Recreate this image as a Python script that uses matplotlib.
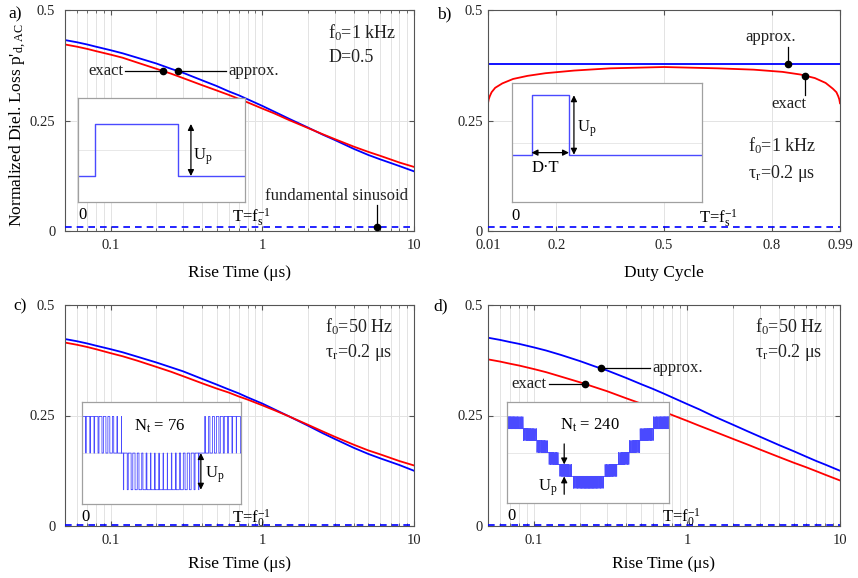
import matplotlib
matplotlib.use("Agg")
import matplotlib.pyplot as plt
import numpy as np
from matplotlib.ticker import FixedLocator, FixedFormatter, LogLocator, NullFormatter

plt.rcParams['font.family'] = ['Liberation Serif', 'DejaVu Serif']
plt.rcParams['mathtext.default'] = 'regular'

# rise time axis (us) shared by a), c), d)
rise = [0.05, 0.06, 0.07, 0.08, 0.1, 0.12, 0.15, 0.2, 0.25, 0.3, 0.4, 0.5, 0.6, 0.7,
        0.8, 1, 1.2, 1.5, 2, 2.5, 3, 4, 5, 6, 7, 8, 10]

a_approx = [0.432, 0.427, 0.422, 0.417, 0.409, 0.402, 0.392, 0.379, 0.367, 0.358, 0.341, 0.328, 0.316, 0.307,
            0.298, 0.283, 0.270, 0.254, 0.234, 0.218, 0.206, 0.186, 0.172, 0.162, 0.154, 0.147, 0.135]
a_exact = [0.422, 0.417, 0.412, 0.407, 0.399, 0.392, 0.381, 0.367, 0.356, 0.346, 0.330, 0.318, 0.308, 0.299,
           0.291, 0.277, 0.266, 0.251, 0.233, 0.219, 0.208, 0.191, 0.179, 0.170, 0.162, 0.155, 0.145]
a_sine = 0.009

duty = [0.01, 0.012, 0.015, 0.02, 0.03, 0.05, 0.08, 0.12, 0.17, 0.25, 0.35, 0.5,
        0.65, 0.75, 0.83, 0.88, 0.92, 0.95, 0.97, 0.98, 0.985, 0.988, 0.99]
b_exact = [0.289, 0.298, 0.305, 0.314, 0.324, 0.334, 0.344, 0.351, 0.357, 0.363, 0.368, 0.371,
           0.368, 0.365, 0.360, 0.354, 0.346, 0.335, 0.322, 0.314, 0.305, 0.298, 0.289]
b_approx = 0.378
b_sine = 0.009

c_approx = [0.423, 0.418, 0.413, 0.408, 0.400, 0.393, 0.383, 0.370, 0.359, 0.350, 0.333, 0.320, 0.309, 0.300,
            0.291, 0.277, 0.264, 0.248, 0.227, 0.210, 0.197, 0.177, 0.163, 0.153, 0.145, 0.138, 0.125]
c_exact = [0.415, 0.410, 0.405, 0.400, 0.391, 0.384, 0.374, 0.360, 0.349, 0.339, 0.323, 0.311, 0.302, 0.293,
           0.286, 0.273, 0.262, 0.248, 0.229, 0.214, 0.202, 0.184, 0.171, 0.162, 0.154, 0.147, 0.137]
c_sine = 0.002

d_approx = [0.426, 0.421, 0.416, 0.412, 0.404, 0.397, 0.387, 0.373, 0.361, 0.352, 0.335, 0.321, 0.310, 0.300,
            0.291, 0.276, 0.264, 0.248, 0.229, 0.214, 0.202, 0.183, 0.169, 0.157, 0.147, 0.139, 0.125]
d_exact = [0.377, 0.372, 0.367, 0.363, 0.355, 0.348, 0.338, 0.325, 0.314, 0.305, 0.289, 0.277, 0.267, 0.259,
           0.251, 0.238, 0.227, 0.214, 0.197, 0.184, 0.173, 0.156, 0.143, 0.133, 0.124, 0.116, 0.103]
d_sine = 0.002

GRID = '#e3e3e3'
SPINE = '#555555'
BLUE = '#0000ff'
RED = '#ff0000'
WAVE = '#4a4aff'

fig = plt.figure(figsize=(8.58, 5.78), dpi=100)
W, H = 858.0, 578.0


def make_ax(x0, y0, x1, y1):
    return fig.add_axes([x0 / W, 1 - y1 / H, (x1 - x0) / W, (y1 - y0) / H])


def style(ax, logx, ypad):
    ax.set_ylim(0, 0.5)
    ax.set_yticks([0, 0.25, 0.5])
    ax.set_yticklabels(['0', '0.25', '0.5'])
    if logx:
        ax.set_xscale('log')
        ax.set_xlim(0.05, 10)
        ax.xaxis.set_major_locator(FixedLocator([0.1, 1, 10]))
        ax.xaxis.set_major_formatter(FixedFormatter(['0.1', '1', '10']))
        ax.xaxis.set_minor_locator(LogLocator(base=10, subs=np.arange(2, 10)))
        ax.xaxis.set_minor_formatter(NullFormatter())
        ax.grid(True, which='minor', axis='x', color=GRID, lw=0.7)
    ax.grid(True, which='major', color=GRID, lw=0.7)
    ax.set_axisbelow(True)
    ax.tick_params(which='both', direction='in', top=True, right=True,
                   colors=SPINE, labelcolor='#222222', labelsize=10.5)
    ax.tick_params(which='major', length=3.5)
    ax.tick_params(which='minor', length=2)
    ax.tick_params(axis='y', pad=ypad)
    ax.tick_params(axis='x', pad=6)
    for s in ax.spines.values():
        s.set_color(SPINE)
        s.set_linewidth(0.8)


def curve_y(xs, ys, x, logx=True):
    if logx:
        return np.interp(np.log10(x), np.log10(xs), ys)
    return np.interp(x, xs, ys)


def inset(ax, box, ylim):
    ins = ax.inset_axes(box)
    ins.set_xlim(0, 1)
    ins.set_ylim(*ylim)
    ins.set_xticks([])
    ins.set_yticks([])
    ins.axhline(0, color='#e8e8e8', lw=0.7, zorder=0)
    for s in ins.spines.values():
        s.set_color('#a0a0a0')
        s.set_linewidth(0.9)
    return ins


def pwm(n_t, amp):
    # schematic carrier-based PWM of a cosine reference
    t = np.linspace(0, 1, 60001)
    ref = amp * np.cos(2 * np.pi * t)
    car = np.abs(((t * n_t / 2) % 1) * 2 - 1)
    base = np.floor(ref)
    return t, base + (ref - base > car)


def darrow(ins, x0, y0, x1, y1, style='<|-|>'):
    ins.annotate('', xy=(x1, y1), xytext=(x0, y0),
                 arrowprops=dict(arrowstyle=style, color='black', lw=0.9,
                                 mutation_scale=9, shrinkA=0, shrinkB=0))


def label(ax, x, y, s, size=12, **kw):
    ax.text(x, y, s, fontsize=size, color='#222222', **kw)


def pointer(ax, x, y, x2, y2):
    ax.plot([x, x2], [y, y2], color='black', lw=0.9, zorder=5)
    ax.plot([x], [y], 'o', color='black', ms=4.5, zorder=6)


def ends(ins, y0, xt, yt, tlabel):
    ins.text(0.0, y0, '0', fontsize=12, ha='left', va='top', clip_on=False)
    ins.text(xt, yt, tlabel, fontsize=12, ha='left', va='top', clip_on=False)


# ---------------- a)
ax = make_ax(65, 10, 414, 231)
style(ax, True, 7)
ax.plot(rise, a_approx, color=BLUE, lw=1.3)
ax.plot(rise, a_exact, color=RED, lw=1.3)
ax.axhline(a_sine, color=BLUE, lw=1.2, ls=(0, (4, 3)), zorder=3)
ax.set_xlabel('Rise Time (μs)', fontsize=12.5, labelpad=9)
ax.set_ylabel("Normalized Diel. Loss p'$_{d,AC}$", fontsize=12.5)
ax.yaxis.set_label_coords(-0.105, 0.48)
ye = curve_y(rise, a_exact, 0.22)
pointer(ax, 0.22, ye, 0.125, ye)
label(ax, 0.121, ye, 'exact', ha='right', va='center')
ya = curve_y(rise, a_approx, 0.28)
pointer(ax, 0.28, ya, 0.58, ya)
label(ax, 0.6, ya, 'approx.', ha='left', va='center')
pointer(ax, 5.7, a_sine, 5.7, 0.058)
label(ax, 3.1, 0.061, 'fundamental sinusoid', ha='center', va='bottom')
label(ax, 0.754, 0.896, 'f$_0$=1 kHz', size=13, transform=ax.transAxes, va='center')
label(ax, 0.754, 0.787, 'D=0.5', size=13, transform=ax.transAxes, va='center')
ins = inset(ax, [0.037, 0.131, 0.479, 0.471], (-1, 1))
ins.step([0, 0.1, 0.6, 1], [-0.5, 0.5, -0.5, -0.5], where='post', color=WAVE, lw=1)
darrow(ins, 0.676, -0.5, 0.676, 0.5)
ins.text(0.69, -0.13, 'U$_p$', fontsize=12, va='center')
ends(ins, -1.1, 0.92, -1.08, 'T=$f_s^{-1}$')
fig.text(8 / W, 1 - 14 / H, 'a)', fontsize=12.5, va='center')

# ---------------- b)
ax = make_ax(488, 10, 840, 231)
style(ax, False, 3.5)
ax.set_xlim(0.01, 0.99)
ax.set_xticks([0.01, 0.2, 0.5, 0.8, 0.99])
ax.set_xticklabels(['0.01', '0.2', '0.5', '0.8', '0.99'])
ax.axhline(b_approx, color=BLUE, lw=1.3)
ax.plot(duty, b_exact, color=RED, lw=1.3)
ax.axhline(b_sine, color=BLUE, lw=1.2, ls=(0, (4, 3)), zorder=3)
ax.set_xlabel('Duty Cycle', fontsize=12.5, labelpad=9)
pointer(ax, 0.846, b_approx, 0.846, 0.417)
label(ax, 0.797, 0.42, 'approx.', ha='center', va='bottom')
yb = curve_y(duty, b_exact, 0.892, logx=False)
pointer(ax, 0.892, yb, 0.892, 0.307)
label(ax, 0.848, 0.305, 'exact', ha='center', va='top')
label(ax, 0.739, 0.385, 'f$_0$=1 kHz', size=13, transform=ax.transAxes, va='center')
label(ax, 0.739, 0.262, 'τ$_r$=0.2 μs', size=13, transform=ax.transAxes, va='center')
ins = inset(ax, [0.067, 0.130, 0.540, 0.538], (-1, 1))
ins.step([0, 0.105, 0.302, 1], [-0.2, 0.8, -0.2, -0.2], where='post', color=WAVE, lw=1)
darrow(ins, 0.328, -0.2, 0.328, 0.8)
darrow(ins, 0.105, -0.165, 0.302, -0.165)
ins.text(0.342, 0.24, 'U$_p$', fontsize=12, va='center')
ins.text(0.18, -0.43, 'D·T', fontsize=12, ha='center', va='center')
ends(ins, -1.1, 0.985, -1.08, 'T=$f_s^{-1}$')
fig.text(437 / W, 1 - 14 / H, 'b)', fontsize=12.5, va='center')

# ---------------- c)
ax = make_ax(65, 305, 414, 526)
style(ax, True, 7)
ax.plot(rise, c_approx, color=BLUE, lw=1.3)
ax.plot(rise, c_exact, color=RED, lw=1.3)
ax.axhline(c_sine, color=BLUE, lw=1.2, ls=(0, (4, 3)), zorder=3)
ax.set_xlabel('Rise Time (μs)', fontsize=12.5, labelpad=6)
label(ax, 0.745, 0.90, 'f$_0$=50 Hz', size=13, transform=ax.transAxes, va='center')
label(ax, 0.745, 0.787, 'τ$_r$=0.2 μs', size=13, transform=ax.transAxes, va='center')
ins = inset(ax, [0.048, 0.098, 0.455, 0.464], (-1.4, 1.4))
t, w = pwm(76, 0.97)
ins.plot(t, w, color=WAVE, lw=0.6, drawstyle='steps-post')
darrow(ins, 0.75, 0, 0.75, -1)
ins.text(0.776, -0.6, 'U$_p$', fontsize=12, va='center')
ins.text(0.49, 0.72, 'N$_t$ = 76', fontsize=12, ha='center', va='center',
         bbox=dict(facecolor='white', edgecolor='none', pad=1))
ends(ins, -1.53, 0.945, -1.5, 'T=$f_0^{-1}$')
fig.text(13 / W, 1 - 306 / H, 'c)', fontsize=12.5, va='center')

# ---------------- d)
ax = make_ax(488, 305, 840, 526)
style(ax, True, 3.5)
ax.plot(rise, d_approx, color=BLUE, lw=1.3)
ax.plot(rise, d_exact, color=RED, lw=1.3)
ax.axhline(d_sine, color=BLUE, lw=1.2, ls=(0, (4, 3)), zorder=3)
ax.set_xlabel('Rise Time (μs)', fontsize=12.5, labelpad=6)
ya = curve_y(rise, d_approx, 0.273)
pointer(ax, 0.273, ya, 0.57, ya)
label(ax, 0.59, ya, 'approx.', ha='left', va='center')
ye = curve_y(rise, d_exact, 0.214)
pointer(ax, 0.214, ye, 0.125, ye)
label(ax, 0.121, ye, 'exact', ha='right', va='center')
label(ax, 0.759, 0.90, 'f$_0$=50 Hz', size=13, transform=ax.transAxes, va='center')
label(ax, 0.759, 0.787, 'τ$_r$=0.2 μs', size=13, transform=ax.transAxes, va='center')
ins = inset(ax, [0.055, 0.103, 0.460, 0.459], (-4.25, 4.25))
t, w = pwm(240, 2.45)
ins.plot(t, w, color=WAVE, lw=0.6, drawstyle='steps-post')
darrow(ins, 0.351, 0.72, 0.351, -1, style='-|>')
darrow(ins, 0.351, -3.5, 0.351, -2, style='-|>')
ins.text(0.31, -2.98, 'U$_p$', fontsize=12, ha='right', va='center')
ins.text(0.51, 2.32, 'N$_t$ = 240', fontsize=12, ha='center', va='center')
ends(ins, -4.65, 0.955, -4.55, 'T=$f_0^{-1}$')
fig.text(433 / W, 1 - 306 / H, 'd)', fontsize=12.5, va='center')

fig.savefig('out.png', dpi=100)
